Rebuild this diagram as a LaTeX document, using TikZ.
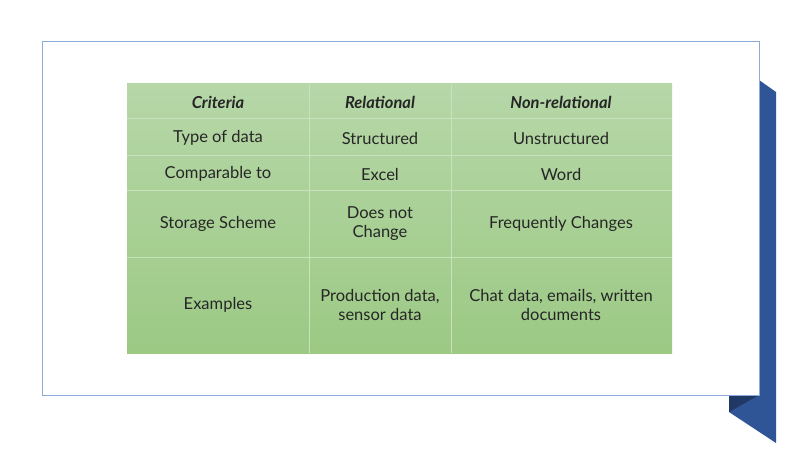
\documentclass[tikz,border=0pt]{standalone}
\usepackage{fontspec}
\setmainfont{Lato}
\begin{document}
\begin{tikzpicture}[x=1pt,y=-1pt,
  cell/.style={font=\fontsize{16.5}{19}\selectfont, align=center, text=black!85},
  hdr/.style={cell, font=\fontsize{16.5}{19}\selectfont\bfseries\itshape}]
\definecolor{ribbon}{HTML}{2F5597}
\definecolor{ribdark}{HTML}{203864}
\definecolor{frame}{HTML}{8EA9DB}
\definecolor{gtop}{HTML}{B6D7A8}
\definecolor{gbot}{HTML}{9CC984}
\definecolor{gline}{HTML}{C8E2BC}
\useasboundingbox (0,0) rectangle (800,449);
\fill[white] (0,0) rectangle (800,449);
\fill[ribbon] (759,80) -- (776,92) -- (776,443) -- (729,412) -- (729,380) -- cycle;
\fill[ribdark] (729,395) -- (759,395) -- (729,412) -- cycle;
\draw[frame, fill=white, line width=1pt] (42,42) rectangle (759,395);
\shade[top color=gtop, bottom color=gbot] (127,84) rectangle (672,353);
\draw[gline, line width=1pt] (309,84) -- (309,353) (451,84) -- (451,353)
  (127,119) -- (672,119) (127,156) -- (672,156) (127,191) -- (672,191) (127,257) -- (672,257);
\node[hdr] (h1) at (218,102) {Criteria};
\node[hdr] (h2) at (380,102) {Relational};
\node[hdr] (h3) at (561,102) {Non-relational};
\node[cell] (a1) at (218,138) {Type of data};
\node[cell] (a2) at (380,138) {Structured};
\node[cell] (a3) at (561,138) {Unstructured};
\node[cell] (b1) at (218,174) {Comparable to};
\node[cell] (b2) at (380,174) {Excel};
\node[cell] (b3) at (561,174) {Word};
\node[cell] (c1) at (218,224) {Storage Scheme};
\node[cell] (c2) at (380,224) {Does not\\Change};
\node[cell] (c3) at (561,224) {Frequently Changes};
\node[cell] (d1) at (218,305) {Examples};
\node[cell] (d2) at (380,305) {Production data,\\sensor data};
\node[cell] (d3) at (561,305) {Chat data, emails, written\\documents};
\end{tikzpicture}
\end{document}
